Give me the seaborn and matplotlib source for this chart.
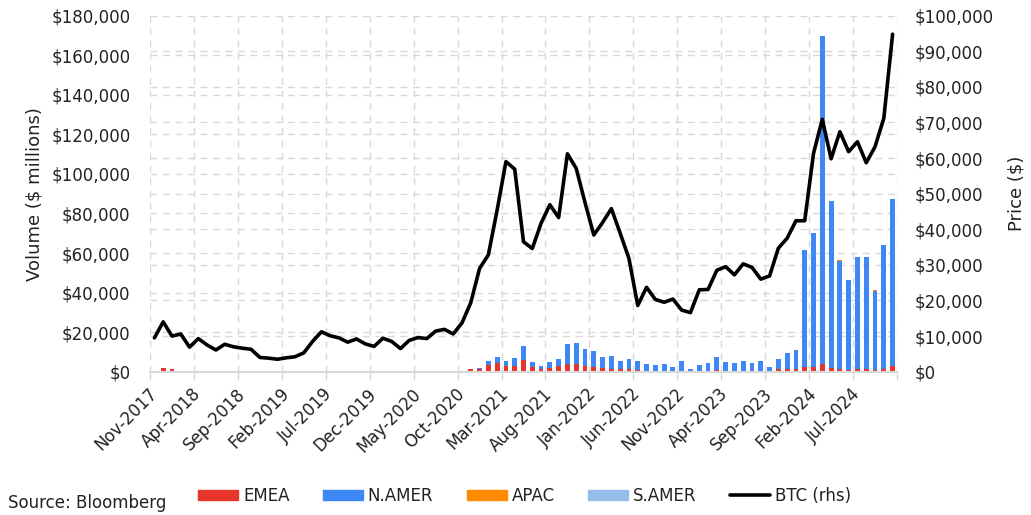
import numpy as np
import pandas as pd
import matplotlib
matplotlib.use("Agg")
import matplotlib.pyplot as plt
import seaborn as sns
from matplotlib.patches import Patch
from matplotlib.lines import Line2D
from matplotlib.ticker import FuncFormatter

# ---------------- data ----------------
months = pd.date_range("2017-11-01", "2024-11-01", freq="MS").strftime("%b-%Y").tolist()

tick_labels = ["Nov-2017", "Apr-2018", "Sep-2018", "Feb-2019", "Jul-2019", "Dec-2019",
               "May-2020", "Oct-2020", "Mar-2021", "Aug-2021", "Jan-2022", "Jun-2022",
               "Nov-2022", "Apr-2023", "Sep-2023", "Feb-2024", "Jul-2024"]

# BTC monthly price (rhs), Nov-2017 .. Nov-2024
btc = [9500, 14000, 10000, 10600, 6900, 9300, 7500, 6100, 7700, 7000, 6600, 6300,
       4000, 3800, 3500, 3900, 4200, 5300, 8500, 11200, 10100, 9500, 8300, 9200,
       7800, 7100, 9400, 8500, 6500, 8800, 9600, 9300, 11400, 11900, 10600, 13700,
       19400, 29000, 32800, 45400, 59000, 56900, 36500, 34600, 41700, 46900, 43300, 61200,
       57100, 47500, 38400, 41900, 45800, 38900, 31800, 18600, 23700, 20300, 19500, 20400,
       17300, 16600, 23000, 23100, 28500, 29500, 27200, 30300, 29300, 26000, 26900, 34700,
       37500, 42400, 42400, 61300, 70900, 59800, 67400, 61800, 64600, 58700, 63200, 71200,
       94800]

# Volume by region ($ millions)
emea = [250, 1700, 1400, 500, 0, 0, 0, 0, 0, 0, 0, 0,
        0, 0, 0, 0, 0, 0, 0, 0, 0, 0, 0, 0,
        0, 0, 0, 0, 0, 0, 0, 0, 0, 0, 0, 0,
        1350, 1300, 3500, 4400, 2700, 3000, 5900, 2200, 1350, 1850, 2900, 4000,
        3700, 2700, 2500, 1700, 1500, 1200, 1200, 850, 500, 350, 250, 200,
        250, 150, 200, 250, 650, 300, 250, 500, 300, 300, 200, 1200,
        1350, 1350, 2200, 2200, 3900, 1850, 1200, 1000, 1350, 1200, 700, 1200,
        3000]

n_amer = [0, 0, 0, 0, 0, 0, 0, 0, 0, 0, 0, 0,
          0, 0, 0, 0, 0, 0, 0, 0, 0, 0, 0, 0,
          0, 0, 0, 0, 0, 0, 0, 0, 0, 0, 0, 0,
          0, 600, 2000, 3200, 2850, 4050, 7100, 2850, 1500, 2850, 3350, 10000,
          10600, 8750, 7900, 5900, 6550, 4350, 5400, 4550, 3550, 3200, 3550, 2350,
          5150, 1200, 3200, 4000, 6750, 4750, 4300, 5050, 3900, 4930, 2330, 5030,
          8250, 9600, 59300, 67700, 165800, 84450, 54900, 45300, 56750, 56600, 40300, 62800,
          84100]

apac = [0] * 74 + [0, 0, 100, 150, 150, 150, 0, 0, 100, 0, 250]

s_amer = [0, 0, 0, 0, 0, 0, 300, 0, 0, 0, 0, 0,
          0, 0, 0, 0, 0, 0, 300, 300, 300, 0, 0, 0,
          0, 0, 0, 0, 0, 0, 0, 0, 0, 300, 0, 300,
          0] + [0] * 48

# ---------------- style ----------------
sns.set_theme(style="white")
plt.rcParams["font.family"] = ["DejaVu Sans"]

C_EMEA = "#E8352B"
C_NAMER = "#3D88F4"
C_APAC = "#FF8A00"
C_SAMER = "#95BDEB"
GRID = "#D9D9D9"
TXT = "#222222"

W, H = 1031, 515
fig = plt.figure(figsize=(W / 100, H / 100), dpi=100)
L, R, T, B = 150, 897, 15.7, 371.7
ax = fig.add_axes([L / W, 1 - B / H, (R - L) / W, (B - T) / H])

idx = np.arange(len(months))
c1 = np.array(emea, float)
c2 = c1 + np.array(n_amer, float)
c3 = c2 + np.array(apac, float)
c4 = c3 + np.array(s_amer, float)

for cum, col in [(c4, C_SAMER), (c3, C_APAC), (c2, C_NAMER), (c1, C_EMEA)]:
    sns.barplot(x=idx, y=cum, ax=ax, color=col, saturation=1, width=0.55,
                linewidth=0, errorbar=None, zorder=2)

ax.set_xlim(-0.5, len(months) - 0.5)
ax.set_ylim(0, 180000)
ax.set_yticks(np.arange(0, 180001, 20000))
ax.set_yticks(np.arange(0, 180001, 18000), minor=True)
ax.yaxis.set_major_formatter(FuncFormatter(lambda v, p: f"${v:,.0f}"))
ax.tick_params(axis="y", which="both", length=0, pad=14, labelsize=12, labelcolor=TXT)

major_pos = [months.index(t) for t in tick_labels]
ax.set_xticks(major_pos)
ax.set_xticklabels(tick_labels, rotation=45, ha="right", va="center",
                   rotation_mode="anchor", fontsize=12, color=TXT)
ax.set_xticks(np.arange(-0.5, len(months), 5), minor=True)
ax.tick_params(axis="x", which="major", length=0, pad=14)
ax.tick_params(axis="x", which="minor", length=6, width=1, color=GRID, bottom=True)

ax.set_axisbelow(True)
ax.grid(False)
ax.grid(axis="x", which="minor", color=GRID, linestyle=(0, (5, 4)), linewidth=1)
ax.grid(axis="y", which="both", color=GRID, linestyle=(0, (5, 4)), linewidth=1)
for s in ["left", "right", "top"]:
    ax.spines[s].set_visible(False)
ax.spines["bottom"].set_color(GRID)
ax.spines["bottom"].set_linewidth(1.5)
ax.set_xlabel("")
ax.set_ylabel("Volume ($ millions)", fontsize=13, color=TXT)
ax.yaxis.set_label_coords((43 - L) / (R - L), 0.5)

ax2 = ax.twinx()
sns.lineplot(x=idx, y=btc, ax=ax2, color="black", linewidth=2.6, zorder=5)
ax2.set_ylim(0, 100000)
ax2.set_yticks(np.arange(0, 100001, 10000))
ax2.yaxis.set_major_formatter(FuncFormatter(lambda v, p: f"${v:,.0f}"))
ax2.tick_params(axis="y", length=0, pad=13, labelsize=12, labelcolor=TXT)
ax2.grid(False)
for s in ax2.spines.values():
    s.set_visible(False)
ax2.set_ylabel("Price ($)", fontsize=13, color=TXT, rotation=90)
ax2.yaxis.set_label_coords((1007 - L) / (R - L), 0.5)
ax2.set_xlim(-0.5, len(months) - 0.5)

handles = [Patch(color=C_EMEA, label="EMEA"), Patch(color=C_NAMER, label="N.AMER"),
           Patch(color=C_APAC, label="APAC"), Patch(color=C_SAMER, label="S.AMER"),
           Line2D([0], [0], color="black", lw=2.6, label="BTC (rhs)")]
fig.legend(handles=handles, loc="center", bbox_to_anchor=(524.5 / W, 1 - 496 / H),
           ncol=5, frameon=False, fontsize=12, handlelength=2.4, handleheight=0.6,
           handletextpad=0.3, columnspacing=2.0, labelcolor=TXT)

fig.text(8 / W, 1 - 503 / H, "Source: Bloomberg", fontsize=12, color=TXT,
         ha="left", va="center")

fig.savefig("out.png", dpi=100)
